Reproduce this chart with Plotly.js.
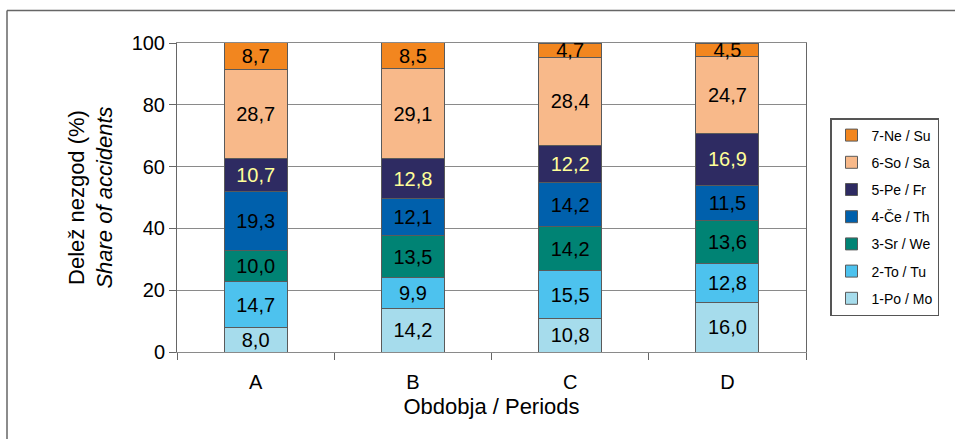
<!DOCTYPE html>
<html>
<head>
<meta charset="utf-8">
<script src="https://cdn.plot.ly/plotly-3.0.1.min.js"></script>
<style>html,body{margin:0;padding:0;background:#fff;}#chart{width:955px;height:439px;}</style>
</head>
<body>
<div id="chart"></div>
<script>
const periods = ['A', 'B', 'C', 'D'];
const seriesNames = ['1-Po / Mo', '2-To / Tu', '3-Sr / We', '4-Če / Th', '5-Pe / Fr', '6-So / Sa', '7-Ne / Su'];
const po = [8.0, 14.2, 10.8, 16.0];
const to = [14.7, 9.9, 15.5, 12.8];
const sr = [10.0, 13.5, 14.2, 13.6];
const ce = [19.3, 12.1, 14.2, 11.5];
const pe = [10.7, 12.8, 12.2, 16.9];
const so = [28.7, 29.1, 28.4, 24.7];
const ne = [8.7, 8.5, 4.7, 4.5];
const seriesValues = [po, to, sr, ce, pe, so, ne];
const colors = ['#A6DCEC', '#4DC2EE', '#008374', '#0060AC', '#2E2B62', '#F8B98A', '#F2861F'];
const textColors = ['#000', '#000', '#000', '#000', '#FFFF99', '#000', '#000'];

const FONT = 'Liberation Sans, Arial, sans-serif';

const traces = seriesNames.map((name, i) => ({
  type: 'bar',
  name: name,
  x: periods,
  y: seriesValues[i],
  legendgroup: 'g' + i,
  legendrank: 100 - i,
  marker: {color: colors[i], line: {color: '#5a5a5a', width: 1}},
  texttemplate: '%{y:.1f}',
  textposition: 'inside',
  insidetextanchor: 'middle',
  constraintext: 'none',
  textangle: 0,
  textfont: {family: FONT, size: 20, color: textColors[i]},
  hoverinfo: 'x+y+name'
}));

const toPx = (px) => (px - 177) / 629;
const toPy = (py) => (352 - py) / 309;

const layout = {
  width: 955, height: 439,
  margin: {l: 177, r: 149, t: 43, b: 87},
  paper_bgcolor: '#fff', plot_bgcolor: '#fff',
  separators: ', ',
  barmode: 'stack',
  bargap: 0.6,
  font: {family: FONT, color: '#000'},
  showlegend: true,
  legend: {
    x: toPx(830), xanchor: 'left', y: toPy(118), yanchor: 'top',
    bordercolor: '#555', borderwidth: 1.5, bgcolor: '#fff',
    font: {family: FONT, size: 14, color: '#000'},
    traceorder: 'grouped', tracegroupgap: 6
  },
  xaxis: {
    showline: true, linecolor: '#8a8a8a', linewidth: 1, mirror: true,
    ticks: 'outside', tickson: 'boundaries', ticklen: 7, tickcolor: '#666',
    ticklabelstandoff: 12,
    tickfont: {family: FONT, size: 20, color: '#000'},
    title: {text: 'Obdobja / Periods', font: {family: FONT, size: 22, color: '#000'}, standoff: 6}
  },
  yaxis: {
    range: [0, 100], dtick: 20, showgrid: true, gridcolor: '#8a8a8a', gridwidth: 1,
    showline: true, linecolor: '#666', linewidth: 1, mirror: true,
    ticks: 'outside', ticklen: 7, tickcolor: '#666',
    tickfont: {family: FONT, size: 20, color: '#000'},
    title: {text: 'Delež nezgod (%)<br><i>Share of accidents</i>', font: {family: FONT, size: 22, color: '#000'}, standoff: 12},
    zeroline: false
  },
  shapes: [
    {type: 'line', xref: 'paper', yref: 'paper', x0: toPx(7), x1: toPx(960), y0: toPy(10.5), y1: toPy(10.5), line: {color: '#666', width: 1.5}},
    {type: 'line', xref: 'paper', yref: 'paper', x0: toPx(7), x1: toPx(7), y0: toPy(10.5), y1: toPy(445), line: {color: '#666', width: 1.5}}
  ]
};

Plotly.newPlot('chart', traces, layout, {displayModeBar: false, staticPlot: true});
</script>
</body>
</html>
